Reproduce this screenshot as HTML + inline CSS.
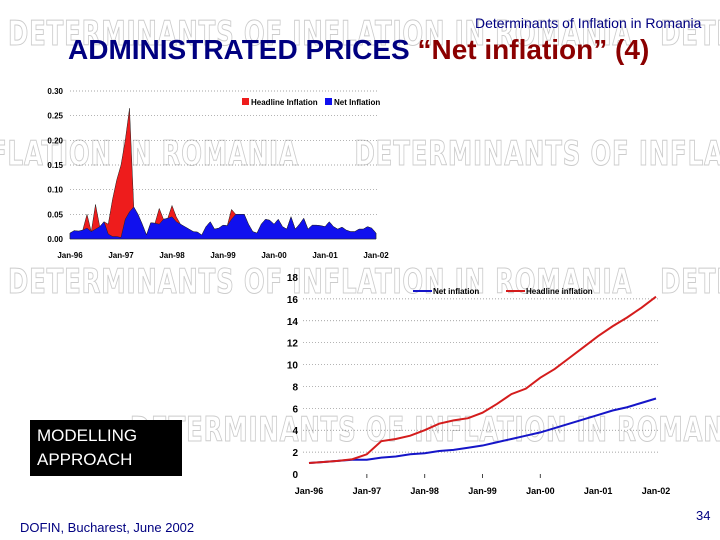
<!DOCTYPE html>
<html><head><meta charset="utf-8"><style>
body{margin:0;width:720px;height:540px;background:#fff;overflow:hidden;position:relative;font-family:"Liberation Sans",sans-serif}
#wmwrap{position:absolute;left:0;top:0;width:720px;height:540px;overflow:hidden}
.wm{position:absolute;font-family:"DejaVu Sans Condensed","Liberation Sans Narrow",sans-serif;font-weight:bold;font-size:34px;color:#fff;-webkit-text-stroke:1px #cccccc;white-space:nowrap;letter-spacing:1px;transform:scaleX(0.8);transform-origin:left top}
</style></head><body>
<div id="wmwrap">
<div class="wm" style="left:8px;top:14px">DETERMINANTS OF INFLATION IN ROMANIA &nbsp; DETERMINANTS</div>
<div class="wm" style="left:-10px;top:134px">FLATION IN ROMANIA &nbsp;&nbsp;&nbsp;&nbsp; DETERMINANTS OF INFLATION IN RO</div>
<div class="wm" style="left:8px;top:262px">DETERMINANTS OF INFLATION IN ROMANIA &nbsp; DETERMINANTS</div>
<div class="wm" style="left:130px;top:410px">DETERMINANTS OF INFLATION IN ROMANIA &nbsp;&nbsp;&nbsp; DETE</div>
</div>
<div style="position:absolute;left:475px;top:15px;font-size:14px;color:#000080">Determinants of Inflation in Romania</div>
<div style="position:absolute;left:68px;top:34px;font-size:28px;font-weight:bold;color:#000080;white-space:nowrap">ADMINISTRATED PRICES <span style="color:#8b0000">“Net inflation” (4)</span></div>
<svg id="c" width="720" height="540" style="position:absolute;left:0;top:0"></svg>
<div style="position:absolute;left:30px;top:420px;width:152px;height:56px;background:#000;color:#fff;font-size:17px;padding:4px 0 0 7px;box-sizing:border-box;line-height:24px">MODELLING<br>APPROACH</div>
<div style="position:absolute;left:20px;top:520px;font-size:13px;color:#000080">DOFIN, Bucharest, June 2002</div>
<div style="position:absolute;left:696px;top:508px;font-size:13px;color:#000080">34</div>
<script>
const topNet=[0.012,0.017,0.016,0.018,0.022,0.015,0.02,0.025,0.035,0.01,0.005,0.005,0.003,0.04,0.055,0.065,0.05,0.03,0.008,0.033,0.032,0.03,0.04,0.042,0.045,0.035,0.03,0.025,0.02,0.015,0.014,0.008,0.025,0.035,0.02,0.022,0.028,0.027,0.04,0.05,0.05,0.05,0.03,0.015,0.012,0.03,0.04,0.038,0.03,0.04,0.025,0.02,0.045,0.02,0.03,0.042,0.02,0.028,0.028,0.027,0.025,0.035,0.025,0.02,0.024,0.018,0.015,0.015,0.02,0.02,0.025,0.022,0.012];
const topHead=[0.012,0.017,0.016,0.018,0.05,0.015,0.07,0.025,0.035,0.03,0.08,0.12,0.15,0.2,0.265,0.065,0.05,0.03,0.008,0.033,0.032,0.062,0.04,0.042,0.068,0.045,0.03,0.025,0.02,0.015,0.014,0.008,0.025,0.035,0.02,0.022,0.028,0.027,0.06,0.05,0.05,0.05,0.03,0.015,0.012,0.03,0.04,0.038,0.03,0.04,0.025,0.02,0.045,0.02,0.03,0.042,0.02,0.028,0.028,0.027,0.025,0.035,0.025,0.02,0.024,0.018,0.015,0.015,0.02,0.02,0.025,0.022,0.012];
const topTicks=["0.00","0.05","0.10","0.15","0.20","0.25","0.30"];
const xLabels=["Jan-96","Jan-97","Jan-98","Jan-99","Jan-00","Jan-01","Jan-02"];
const botHead=[1.0,1.1,1.2,1.35,1.8,3.0,3.2,3.5,4.0,4.6,4.9,5.1,5.6,6.4,7.3,7.8,8.8,9.6,10.6,11.6,12.6,13.5,14.3,15.2,16.2];
const botNet=[1.0,1.1,1.2,1.3,1.3,1.5,1.6,1.8,1.9,2.1,2.2,2.4,2.6,2.9,3.2,3.5,3.8,4.2,4.6,5.0,5.4,5.8,6.1,6.5,6.9];
const botTicks=[0,2,4,6,8,10,12,14,16,18];
const svg=document.getElementById('c');const NS='http://www.w3.org/2000/svg';
function mk(t,a){const e=document.createElementNS(NS,t);for(const k in a)e.setAttribute(k,a[k]);svg.appendChild(e);return e;}
function tx(x,y,s,anchor,size){const e=mk('text',{x:x,y:y,'text-anchor':anchor,'font-size':size,'font-family':'Liberation Sans,sans-serif','font-weight':'bold',fill:'#000'});e.textContent=s;return e;}
const tx0=70,tx1=376,ty0=239,ty1=91;
const X1=i=>tx0+i*(tx1-tx0)/72, Y1=v=>ty0-v/0.30*(ty0-ty1);
topTicks.forEach(t=>{const y=Y1(+t);
if(+t>0){const g=mk('line',{x1:tx0,x2:tx1+2,y1:y,y2:y,stroke:'#888','stroke-dasharray':'1,2','stroke-width':0.7});}
const l=tx(63,y+3,t,'end',8);});
function area(arr,X,Y,col,name){let d='M'+X(0)+','+Y(0);arr.forEach((v,i)=>d+='L'+X(i)+','+Y(v));d+='L'+X(arr.length-1)+','+Y(0)+'Z';const p=mk('path',{d:d,fill:col,stroke:'#222','stroke-width':0.5});}
area(topHead,X1,Y1,'#ee1c1c','headline-inflation-area');
area(topNet,X1,Y1,'#1010ee','net-inflation-area');
xLabels.forEach((s,k)=>{const l=tx(X1(k*12),258,s,'middle',8);});
let r=mk('rect',{x:242,y:98,width:7,height:7,fill:'#ee1c1c'});
let t1=tx(251,105,'Headline Inflation','start',8);
r=mk('rect',{x:325,y:98,width:7,height:7,fill:'#1010ee'});
t1=tx(334,105,'Net Inflation','start',8);
const bx0=309,bx1=656,by0=474,by1=277;
const X2=i=>bx0+i*(bx1-bx0)/24, Y2=v=>by0-v/18*(by0-by1);
botTicks.forEach(t=>{const y=Y2(t);
if(t>0&&t<18){const g=mk('line',{x1:303,x2:660,y1:y,y2:y,stroke:'#888','stroke-dasharray':'1,2','stroke-width':0.7});}
const l=tx(298,y+4,String(t),'end',10);});
xLabels.forEach((s,k)=>{const x=X2(k*4);if(k>0&&k<5){const tk=mk('line',{x1:x,x2:x,y1:474,y2:478,stroke:'#444'});}
const l=tx(x,494,s,'middle',9);});
function line(arr,col,name){const p=mk('polyline',{points:arr.map((v,i)=>X2(i)+','+Y2(v)).join(' '),fill:'none',stroke:col,'stroke-width':2});}
line(botNet,'#1515c8','net-inflation-line');
line(botHead,'#d41c1c','headline-inflation-line');
let lg=mk('line',{x1:413,x2:432,y1:291,y2:291,stroke:'#1515c8','stroke-width':2});
t1=tx(433,294,'Net inflation','start',8);
lg=mk('line',{x1:506,x2:525,y1:291,y2:291,stroke:'#d41c1c','stroke-width':2});
t1=tx(526,294,'Headline inflation','start',8);
</script>
</body></html>
